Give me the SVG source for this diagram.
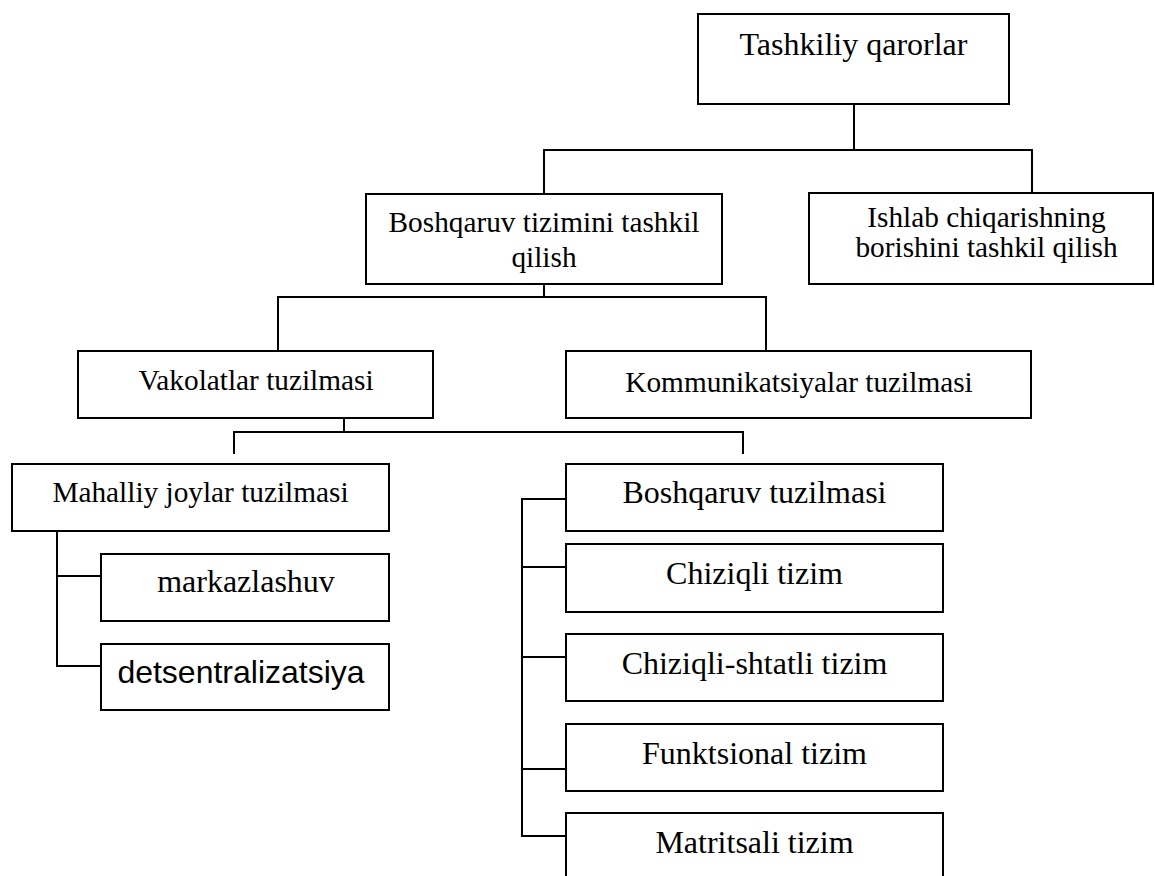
<svg xmlns="http://www.w3.org/2000/svg" width="1155" height="876" viewBox="0 0 1155 876">
<style>
rect.b{fill:#fff;stroke:#000;stroke-width:2}
.c line{stroke:#000;stroke-width:2;fill:none}
text{font-family:"Liberation Serif","Times New Roman",serif;fill:#000;text-anchor:middle}
.m{font-size:29.3px}
.l{font-size:32px}
.s{font-family:"Liberation Sans",Arial,sans-serif;font-size:32px}
</style>
<rect width="1155" height="876" fill="#fff"/>
<g class="c" id="connectors">
<line x1="854" y1="104" x2="854" y2="150"/>
<line x1="543" y1="150" x2="1033" y2="150"/>
<line x1="544" y1="150" x2="544" y2="194"/>
<line x1="1032" y1="150" x2="1032" y2="193"/>
<line x1="544" y1="284" x2="544" y2="297"/>
<line x1="277" y1="297" x2="767" y2="297"/>
<line x1="278" y1="297" x2="278" y2="351"/>
<line x1="766" y1="297" x2="766" y2="351"/>
<line x1="344" y1="418" x2="344" y2="432"/>
<line x1="233" y1="432" x2="744" y2="432"/>
<line x1="234" y1="432" x2="234" y2="454"/>
<line x1="743" y1="432" x2="743" y2="454"/>
<line x1="57" y1="531" x2="57" y2="667"/>
<line x1="56" y1="576" x2="101" y2="576"/>
<line x1="56" y1="666" x2="101" y2="666"/>
<line x1="522" y1="498" x2="522" y2="837"/>
<line x1="521" y1="499" x2="566" y2="499"/>
<line x1="521" y1="567" x2="566" y2="567"/>
<line x1="521" y1="657" x2="566" y2="657"/>
<line x1="521" y1="769" x2="566" y2="769"/>
<line x1="521" y1="836" x2="566" y2="836"/>
</g>
<g id="n-tashkiliy"><rect class="b" x="698" y="14" width="311" height="90"/><text class="l" x="853.5" y="55">Tashkiliy qarorlar</text></g>
<g id="n-boshqaruv-tizimi"><rect class="b" x="366" y="194" width="356" height="90"/><text class="m" x="544" y="232">Boshqaruv tizimini tashkil</text><text class="m" x="544" y="267">qilish</text></g>
<g id="n-ishlab"><rect class="b" x="809" y="193" width="344" height="91"/><text class="m" x="986.5" y="227">Ishlab chiqarishning</text><text class="m" x="986.5" y="257">borishini tashkil qilish</text></g>
<g id="n-vakolatlar"><rect class="b" x="78" y="351" width="355" height="67"/><text class="m" x="256" y="390">Vakolatlar tuzilmasi</text></g>
<g id="n-kommunikatsiyalar"><rect class="b" x="566" y="351" width="465" height="67"/><text class="m" x="799" y="392">Kommunikatsiyalar tuzilmasi</text></g>
<g id="n-mahalliy"><rect class="b" x="12" y="464" width="377" height="67"/><text class="m" x="200.5" y="502">Mahalliy joylar tuzilmasi</text></g>
<g id="n-markazlashuv"><rect class="b" x="101" y="554" width="288" height="67"/><text class="l" x="246" y="592">markazlashuv</text></g>
<g id="n-detsentralizatsiya"><rect class="b" x="101" y="644" width="288" height="66"/><text class="s" x="241" y="683">detsentralizatsiya</text></g>
<g id="n-boshqaruv-tuzilmasi"><rect class="b" x="566" y="464" width="377" height="67"/><text class="l" x="754.5" y="503">Boshqaruv tuzilmasi</text></g>
<g id="n-chiziqli"><rect class="b" x="566" y="544" width="377" height="68"/><text class="l" x="754.5" y="584">Chiziqli tizim</text></g>
<g id="n-chiziqli-shtatli"><rect class="b" x="566" y="634" width="377" height="67"/><text class="l" x="754.5" y="674">Chiziqli-shtatli tizim</text></g>
<g id="n-funktsional"><rect class="b" x="566" y="724" width="377" height="67"/><text class="l" x="754.5" y="764">Funktsional tizim</text></g>
<g id="n-matritsali"><rect class="b" x="566" y="813" width="377" height="80"/><text class="l" x="754.5" y="853">Matritsali tizim</text></g>
</svg>
